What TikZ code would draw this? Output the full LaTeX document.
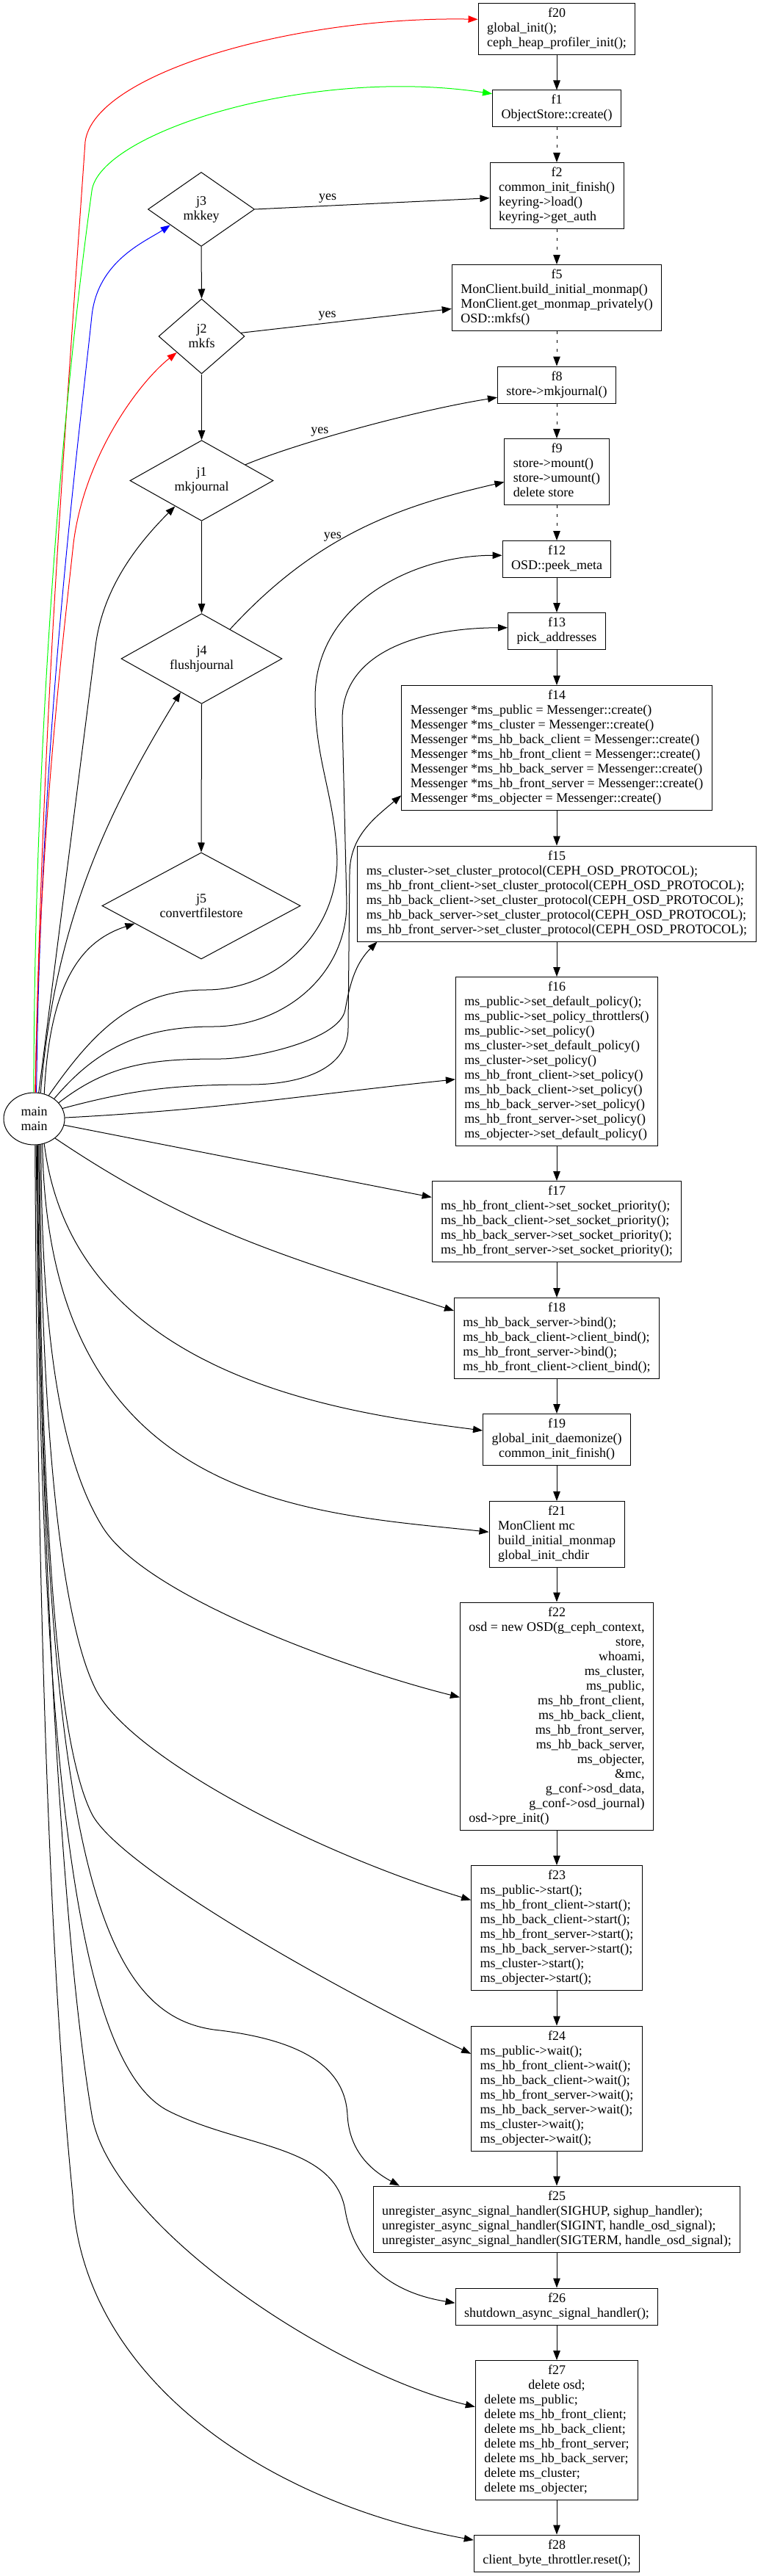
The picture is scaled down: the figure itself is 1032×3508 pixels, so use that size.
\documentclass[tikz,border=0pt]{standalone}
\usepackage{fontspec}
\setmainfont{Liberation Serif}
\usetikzlibrary{shapes.geometric,arrows.meta,positioning}
\newcommand{\fhead}[1]{\multicolumn{1}{@{}c@{}}{#1}}
\newcommand{\fright}[1]{\multicolumn{1}{@{}r@{}}{#1}}

\tikzset{
  every node/.style={font=\fontsize{18}{20}\selectfont},
  fnbox/.style={draw, rectangle, line width=1pt, inner xsep=12pt, inner ysep=5pt},
  cond/.style={draw, diamond, line width=1pt, inner sep=0pt, align=center},
  entry/.style={draw, ellipse, line width=1pt, inner sep=0pt, align=center,
    minimum width=83pt, minimum height=71pt},
  arr/.style={-{Triangle[length=13pt,width=9.5pt]}, line width=1pt},
  dotarr/.style={arr, dash pattern=on 4pt off 8pt},
}

\begin{document}
\begin{tikzpicture}[x=1pt, y=1pt]
\useasboundingbox (0,0) rectangle (1032,-3508);

% calls, top to bottom
\node[fnbox] (f20) at (758,-39.5) {\begin{tabular}{@{}l@{}}\fhead{f20}\\global\_init();\\ceph\_heap\_profiler\_init();\end{tabular}};
\node[fnbox] (f1) at (758,-148) {\begin{tabular}{@{}c@{}}f1\\ObjectStore::create()\end{tabular}};
\node[fnbox] (f2) at (758,-266.5) {\begin{tabular}{@{}l@{}}\fhead{f2}\\common\_init\_finish()\\keyring->load()\\keyring->get\_auth\end{tabular}};
\node[fnbox] (f5) at (758,-405.5) {\begin{tabular}{@{}l@{}}\fhead{f5}\\MonClient.build\_initial\_monmap()\\MonClient.get\_monmap\_privately()\\OSD::mkfs()\end{tabular}};
\node[fnbox] (f8) at (758,-524) {\begin{tabular}{@{}c@{}}f8\\store->mkjournal()\end{tabular}};
\node[fnbox] (f9) at (758,-642.5) {\begin{tabular}{@{}l@{}}\fhead{f9}\\store->mount()\\store->umount()\\delete store\end{tabular}};
\node[fnbox] (f12) at (758,-761.5) {\begin{tabular}{@{}c@{}}f12\\OSD::peek\_meta\end{tabular}};
\node[fnbox] (f13) at (758,-859.5) {\begin{tabular}{@{}c@{}}f13\\pick\_addresses\end{tabular}};
\node[fnbox] (f14) at (758,-1018.5) {\begin{tabular}{@{}l@{}}\fhead{f14}\\
  Messenger *ms\_public = Messenger::create()\\
  Messenger *ms\_cluster = Messenger::create()\\
  Messenger *ms\_hb\_back\_client = Messenger::create()\\
  Messenger *ms\_hb\_front\_client = Messenger::create()\\
  Messenger *ms\_hb\_back\_server = Messenger::create()\\
  Messenger *ms\_hb\_front\_server = Messenger::create()\\
  Messenger *ms\_objecter = Messenger::create()\end{tabular}};
\node[fnbox] (f15) at (758,-1217) {\begin{tabular}{@{}l@{}}\fhead{f15}\\
  ms\_cluster->set\_cluster\_protocol(CEPH\_OSD\_PROTOCOL);\\
  ms\_hb\_front\_client->set\_cluster\_protocol(CEPH\_OSD\_PROTOCOL);\\
  ms\_hb\_back\_client->set\_cluster\_protocol(CEPH\_OSD\_PROTOCOL);\\
  ms\_hb\_back\_server->set\_cluster\_protocol(CEPH\_OSD\_PROTOCOL);\\
  ms\_hb\_front\_server->set\_cluster\_protocol(CEPH\_OSD\_PROTOCOL);\end{tabular}};
\node[fnbox] (f16) at (758,-1445.5) {\begin{tabular}{@{}l@{}}\fhead{f16}\\
  ms\_public->set\_default\_policy();\\
  ms\_public->set\_policy\_throttlers()\\
  ms\_public->set\_policy()\\
  ms\_cluster->set\_default\_policy()\\
  ms\_cluster->set\_policy()\\
  ms\_hb\_front\_client->set\_policy()\\
  ms\_hb\_back\_client->set\_policy()\\
  ms\_hb\_back\_server->set\_policy()\\
  ms\_hb\_front\_server->set\_policy()\\
  ms\_objecter->set\_default\_policy()\end{tabular}};
\node[fnbox] (f17) at (758,-1663.5) {\begin{tabular}{@{}l@{}}\fhead{f17}\\
  ms\_hb\_front\_client->set\_socket\_priority();\\
  ms\_hb\_back\_client->set\_socket\_priority();\\
  ms\_hb\_back\_server->set\_socket\_priority();\\
  ms\_hb\_front\_server->set\_socket\_priority();\end{tabular}};
\node[fnbox] (f18) at (758,-1822.5) {\begin{tabular}{@{}l@{}}\fhead{f18}\\
  ms\_hb\_back\_server->bind();\\
  ms\_hb\_back\_client->client\_bind();\\
  ms\_hb\_front\_server->bind();\\
  ms\_hb\_front\_client->client\_bind();\end{tabular}};
\node[fnbox] (f19) at (758,-1960.5) {\begin{tabular}{@{}c@{}}f19\\global\_init\_daemonize()\\common\_init\_finish()\end{tabular}};
\node[fnbox] (f21) at (758,-2089.5) {\begin{tabular}{@{}l@{}}\fhead{f21}\\MonClient mc\\build\_initial\_monmap\\global\_init\_chdir\end{tabular}};
\node[fnbox] (f22) at (758,-2337) {\begin{tabular}{@{}l@{}}\fhead{f22}\\
  osd = new OSD(g\_ceph\_context,\\
  \fright{store,}\\
  \fright{whoami,}\\
  \fright{ms\_cluster,}\\
  \fright{ms\_public,}\\
  \fright{ms\_hb\_front\_client,}\\
  \fright{ms\_hb\_back\_client,}\\
  \fright{ms\_hb\_front\_server,}\\
  \fright{ms\_hb\_back\_server,}\\
  \fright{ms\_objecter,}\\
  \fright{\&mc,}\\
  \fright{g\_conf->osd\_data,}\\
  \fright{g\_conf->osd\_journal)}\\
  osd->pre\_init()\end{tabular}};
\node[fnbox] (f23) at (758,-2625.5) {\begin{tabular}{@{}l@{}}\fhead{f23}\\
  ms\_public->start();\\
  ms\_hb\_front\_client->start();\\
  ms\_hb\_back\_client->start();\\
  ms\_hb\_front\_server->start();\\
  ms\_hb\_back\_server->start();\\
  ms\_cluster->start();\\
  ms\_objecter->start();\end{tabular}};
\node[fnbox] (f24) at (758,-2844) {\begin{tabular}{@{}l@{}}\fhead{f24}\\
  ms\_public->wait();\\
  ms\_hb\_front\_client->wait();\\
  ms\_hb\_back\_client->wait();\\
  ms\_hb\_front\_server->wait();\\
  ms\_hb\_back\_server->wait();\\
  ms\_cluster->wait();\\
  ms\_objecter->wait();\end{tabular}};
\node[fnbox] (f25) at (758,-3022) {\begin{tabular}{@{}l@{}}\fhead{f25}\\
  unregister\_async\_signal\_handler(SIGHUP, sighup\_handler);\\
  unregister\_async\_signal\_handler(SIGINT, handle\_osd\_signal);\\
  unregister\_async\_signal\_handler(SIGTERM, handle\_osd\_signal);\end{tabular}};
\node[fnbox] (f26) at (758,-3141) {\begin{tabular}{@{}c@{}}f26\\shutdown\_async\_signal\_handler();\end{tabular}};
\node[fnbox] (f27) at (758,-3309.5) {\begin{tabular}{@{}l@{}}\fhead{f27}\\\fhead{delete osd;}\\
  delete ms\_public;\\
  delete ms\_hb\_front\_client;\\
  delete ms\_hb\_back\_client;\\
  delete ms\_hb\_front\_server;\\
  delete ms\_hb\_back\_server;\\
  delete ms\_cluster;\\
  delete ms\_objecter;\end{tabular}};
\node[fnbox] (f28) at (758,-3477) {\begin{tabular}{@{}c@{}}f28\\client\_byte\_throttler.reset();\end{tabular}};

% options checked in main
\node[cond, minimum width=145pt, minimum height=101pt] (j3) at (274,-285) {j3\\mkkey};
\node[cond, minimum width=117pt, minimum height=102pt] (j2) at (274.5,-458) {j2\\mkfs};
\node[cond, minimum width=195pt, minimum height=101pt] (j1) at (274.5,-654.5) {j1\\mkjournal};
\node[cond, minimum width=219pt, minimum height=100pt] (j4) at (274.5,-897) {j4\\flushjournal};
\node[cond, minimum width=270pt, minimum height=101pt] (j5) at (274,-1233.5) {j5\\convertfilestore};

\node[entry] (main) at (46.5,-1523.5) {main\\main};

% sequence
\draw[arr] (f20.south) -- (f1.north);
\draw[dotarr] (f1.south) -- (f2.north);
\draw[dotarr] (f2.south) -- (f5.north);
\draw[dotarr] (f5.south) -- (f8.north);
\draw[dotarr] (f8.south) -- (f9.north);
\draw[dotarr] (f9.south) -- (f12.north);
\foreach \a/\b in {f12/f13, f13/f14, f14/f15, f15/f16, f16/f17, f17/f18, f18/f19,
    f19/f21, f21/f22, f22/f23, f23/f24, f24/f25, f25/f26, f26/f27, f27/f28}
  \draw[arr] (\a.south) -- (\b.north);
\foreach \a/\b in {j3/j2, j2/j1, j1/j4, j4/j5}
  \draw[arr] (\a.south) -- (\b.north);

% yes branches
\draw[arr] (j3.east) -- node[above, pos=.31] {yes} (f2.182);
\draw[arr] (j2.5) -- node[above, pos=.41] {yes} (f5.186);
\draw[arr] (j1.20) .. controls (400,-605) and (560,-560) .. node[above, pos=.36] {yes} (f8.192);
\draw[arr] (j4.46) .. controls (430,-730) and (540,-690) .. node[above, pos=.4] {yes} (f9.191);

% main, upwards
\draw[arr, red] (main.88) .. controls (59,-981) and (81,-699) .. (116,-193)
  .. controls (128,-100) and (400,-22) .. (f20.173);
\draw[arr, green] (main.91) .. controls (47,-1000) and (85,-550) .. (125,-260)
  .. controls (135,-181) and (420,-90) .. (f1.167);
\draw[arr, blue] (main.85) .. controls (55,-1000) and (105,-620) .. (125,-430)
  .. controls (133,-355) and (198,-329) .. (j3.207);
\draw[arr, red] (main.87) .. controls (52,-1150) and (85,-880) .. (100,-740)
  .. controls (115,-620) and (190,-520) .. (j2.213);
\draw[arr] (main.80) -- (130,-880) .. controls (140,-800) and (188,-740) .. (j1.224);
\draw[arr] (main.76) .. controls (75,-1250) and (150,-1100) .. (j4.238);
\draw[arr] (main.68) .. controls (68,-1330) and (115,-1280) .. (j5.195);
\draw[arr] (main.58) to[out=55,in=180] (280,-1348) to[out=0,in=-90] (459,-1170)
  to[out=92,in=-90] (429,-950) to[out=90,in=180] (f12.176);
\draw[arr] (main.45) to[out=50,in=180] (290,-1398) to[out=0,in=-90] (472,-1230)
  -- (466,-980) to[out=90,in=180] (f13.176);
\draw[arr] (main.20) to[out=15,in=180] (340,-1477) to[out=0,in=-90] (474,-1400)
  -- (476,-1190) to[out=90,in=220] (f14.197);
\draw[arr] (main.33) to[out=38,in=180] (300,-1442) to[out=0,in=-100,looseness=.6] (470,-1375)
  to[out=80,in=225] (f15.195);
\draw[arr] (main.2) to[out=3,in=186] (f16.190);
\draw[arr] (main.-12) -- (f17.169);
\draw[arr] (main.-43) to[out=-34,in=162] (f18.165);

% main, downwards
\draw[arr] (main.-68) .. controls (100,-1880) and (480,-1925) .. (f19.173);
\draw[arr] (main.-72) .. controls (65,-2050) and (420,-2060) .. (f21.178);
\draw[arr] (main.-75) .. controls (56,-1850) and (90,-2000) .. (140,-2080)
  .. controls (200,-2176) and (480,-2275) .. (f22.169);
\draw[arr] (main.-78) .. controls (56,-2000) and (90,-2220) .. (130,-2300)
  .. controls (175,-2390) and (420,-2520) .. (f23.162);
\draw[arr] (main.-80) .. controls (56,-2200) and (90,-2400) .. (125,-2470)
  .. controls (160,-2540) and (440,-2700) .. (f24.158);
\draw[arr] (main.-82) .. controls (55,-2550) and (140,-2750) .. (300,-2765)
  .. controls (420,-2780) and (470,-2820) .. (473,-2880)
  .. controls (475,-2920) and (495,-2950) .. (f25.168);
\draw[arr] (main.-84) .. controls (52,-2500) and (120,-2820) .. (230,-2875)
  .. controls (330,-2925) and (455,-2920) .. (470,-3010)
  .. controls (480,-3070) and (520,-3120) .. (f26.178);
\draw[arr] (main.-86) .. controls (60,-2300) and (95,-2700) .. (125,-2880)
  .. controls (150,-3030) and (450,-3230) .. (f27.164);
\draw[arr] (main.-88) .. controls (52,-2400) and (80,-2800) .. (99,-2990)
  .. controls (110,-3230) and (350,-3405) .. (f28.171);

\end{tikzpicture}
\end{document}
